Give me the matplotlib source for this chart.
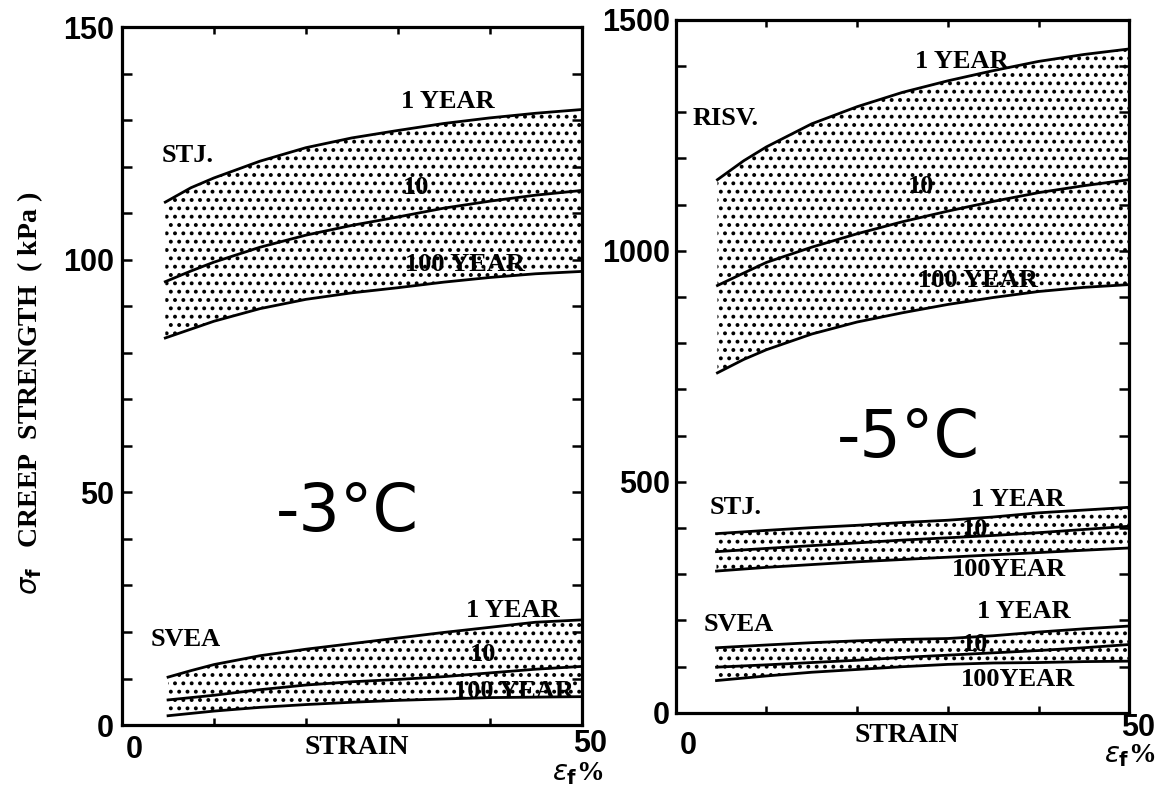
import numpy as np
import matplotlib
matplotlib.use('Agg')
import matplotlib.pyplot as plt

plt.rcParams['hatch.linewidth'] = 1.6

# strain (%) where curves were read
x_left_stj = [4.7, 7.5, 10, 15, 20, 25, 30, 35, 40, 45, 50]
x_left_svea = [5, 7.5, 10, 15, 20, 25, 30, 35, 40, 45, 50]
x_risv = [4.6, 7.5, 10, 15, 20, 25, 30, 35, 40, 45, 50]
x_right_low = [4.5, 10, 15, 20, 25, 30, 35, 40, 45, 50]

# -3 C, creep strength (kPa)
stj3_1yr = [112.4, 115.5, 117.6, 121.2, 124.1, 126.2, 127.8, 129.3, 130.5, 131.5, 132.3]
stj3_10yr = [95.3, 97.6, 99.5, 102.7, 105.3, 107.4, 109.2, 111.1, 112.6, 113.9, 114.9]
stj3_100yr = [83.2, 85.1, 86.8, 89.5, 91.5, 92.9, 94.0, 95.2, 96.2, 97.0, 97.5]
svea3_1yr = [10.3, 11.7, 13.0, 14.9, 16.3, 17.5, 18.7, 19.9, 21.0, 22.1, 22.6]
svea3_10yr = [5.4, 5.9, 6.4, 7.6, 8.6, 9.3, 9.8, 10.4, 11.2, 12.0, 12.6]
svea3_100yr = [2.0, 2.5, 3.0, 3.8, 4.4, 4.9, 5.3, 5.6, 5.9, 6.0, 6.1]

# -5 C
risv5_1yr = [1154, 1195, 1225, 1275, 1312, 1343, 1368, 1390, 1410, 1425, 1437]
risv5_10yr = [925, 952, 975, 1008, 1037, 1063, 1086, 1107, 1126, 1141, 1154]
risv5_100yr = [736, 765, 786, 820, 846, 866, 884, 899, 912, 921, 927]
stj5_1yr = [388, 395, 401, 406, 412, 417, 424, 433, 439, 445]
stj5_10yr = [349, 356, 362, 368, 374, 379, 384, 390, 397, 404]
stj5_100yr = [307, 315, 321, 327, 332, 337, 342, 347, 352, 357]
svea5_1yr = [141, 147, 152, 156, 159, 161, 167, 175, 182, 188]
svea5_10yr = [99, 104, 109, 114, 120, 125, 130, 135, 141, 148]
svea5_100yr = [70, 80, 88, 94, 100, 105, 108, 109, 111, 112]

left_yticks = [0, 50, 100, 150]
right_yticks = [0, 500, 1000, 1500]

serif = dict(family='Liberation Serif', weight='bold')
sans = dict(family='Liberation Sans', weight='bold')
LAB = 19

fig = plt.figure(figsize=(11.63, 7.93), dpi=100)
ax1 = fig.add_axes([0.105, 0.0857, 0.395, 0.880])
ax2 = fig.add_axes([0.581, 0.101, 0.390, 0.874])


def band(ax, x, hi, mid, lo):
    ax.fill_between(x, lo, hi, facecolor='none', edgecolor='black',
                    hatch='..', linewidth=0)
    for y in (hi, mid, lo):
        ax.plot(x, y, color='black', lw=2.0, solid_joinstyle='round')


def frame(ax, yticks, ymax, ystep, ypad, off0, off50):
    ax.set_xlim(0, 50)
    ax.set_ylim(0, ymax)
    for s in ax.spines.values():
        s.set_linewidth(2.3)
    ax.set_yticks(yticks)
    ax.set_yticklabels([str(v) for v in yticks], fontsize=22, **sans)
    ax.set_yticks(np.arange(0, ymax + 1, ystep), minor=True)
    ax.set_xticks([])
    ax.set_xticks([10, 20, 30, 40], minor=True)
    ax.tick_params(which='both', direction='in', top=True, right=True,
                   length=7, width=1.8)
    ax.tick_params(axis='y', which='major', pad=ypad)
    ax.tick_params(axis='x', which='minor', length=5)
    ax.annotate('0', xy=(0, 0), xycoords=('data', 'axes fraction'),
                xytext=off0, textcoords='offset points',
                ha='center', va='center', fontsize=22, **sans)
    ax.annotate('50', xy=(50, 0), xycoords=('data', 'axes fraction'),
                xytext=off50, textcoords='offset points',
                ha='center', va='center', fontsize=22, **sans)
    ax.annotate('STRAIN', xy=(25.5, 0), xycoords=('data', 'axes fraction'),
                xytext=(0, -16), textcoords='offset points',
                ha='center', va='center', fontsize=20, **serif)


# left panel, -3 C
band(ax1, x_left_stj, stj3_1yr, stj3_10yr, stj3_100yr)
band(ax1, x_left_svea, svea3_1yr, svea3_10yr, svea3_100yr)
frame(ax1, left_yticks, 150, 10, 6, (9, -18), (6, -14))
ax1.text(4.3, 122.5, 'STJ.', ha='left', va='center', fontsize=LAB, **serif)
ax1.text(35.4, 134, '1 YEAR', ha='center', va='center', fontsize=LAB, **serif)
ax1.text(32, 115.5, '10', ha='center', va='center', fontsize=LAB, **serif)
ax1.text(37.3, 99, '100 YEAR', ha='center', va='center', fontsize=LAB, **serif)
ax1.text(3.1, 18.4, 'SVEA', ha='left', va='center', fontsize=LAB, **serif)
ax1.text(42.5, 24.6, '1 YEAR', ha='center', va='center', fontsize=LAB, **serif)
ax1.text(39.3, 15.2, '10', ha='center', va='center', fontsize=LAB, **serif)
ax1.text(42.6, 7.2, '100 YEAR', ha='center', va='center', fontsize=LAB, **serif)
ax1.text(24.5, 45.5, '-3°C', ha='center', va='center', fontsize=47,
         family='DejaVu Sans')

# right panel, -5 C
band(ax2, x_risv, risv5_1yr, risv5_10yr, risv5_100yr)
band(ax2, x_right_low, stj5_1yr, stj5_10yr, stj5_100yr)
band(ax2, x_right_low, svea5_1yr, svea5_10yr, svea5_100yr)
frame(ax2, right_yticks, 1500, 100, 4, (9, -24), (6, -11))
ax2.text(1.9, 1286, 'RISV.', ha='left', va='center', fontsize=LAB, **serif)
ax2.text(31.5, 1410, '1 YEAR', ha='center', va='center', fontsize=LAB, **serif)
ax2.text(27, 1140, '10', ha='center', va='center', fontsize=LAB, **serif)
ax2.text(33.3, 936, '100 YEAR', ha='center', va='center', fontsize=LAB, **serif)
ax2.text(25.6, 592, '-5°C', ha='center', va='center', fontsize=47,
         family='DejaVu Sans')
ax2.text(3.7, 444, 'STJ.', ha='left', va='center', fontsize=LAB, **serif)
ax2.text(37.7, 462, '1 YEAR', ha='center', va='center', fontsize=LAB, **serif)
ax2.text(33, 397, '10', ha='center', va='center', fontsize=LAB, **serif)
ax2.text(36.7, 310, '100YEAR', ha='center', va='center', fontsize=LAB, **serif)
ax2.text(3.1, 191, 'SVEA', ha='left', va='center', fontsize=LAB, **serif)
ax2.text(38.4, 220, '1 YEAR', ha='center', va='center', fontsize=LAB, **serif)
ax2.text(33, 148, '10', ha='center', va='center', fontsize=LAB, **serif)
ax2.text(37.7, 72, '100YEAR', ha='center', va='center', fontsize=LAB, **serif)

# strain symbol under each panel
fig.text(578 / 1163, 1 - 774 / 793, r'$\epsilon_{\mathbf{f}}$%',
         ha='center', va='center', fontsize=20, **serif)
fig.text(1130 / 1163, 1 - 756 / 793, r'$\epsilon_{\mathbf{f}}$%',
         ha='center', va='center', fontsize=20, **serif)

fig.text(30 / 1163, 1 - 393 / 793,
         r'$\sigma_{\mathbf{f}}$   CREEP  STRENGTH  ( kPa )',
         rotation=90, ha='center', va='center', fontsize=20, **serif)

fig.savefig('out.png', dpi=100)
